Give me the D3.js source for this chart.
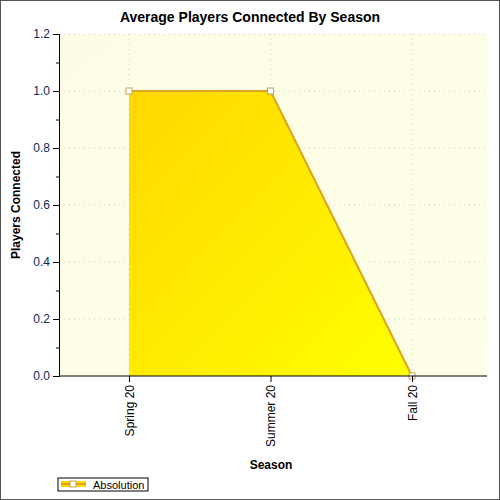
<!DOCTYPE html>
<html><head><meta charset="utf-8">
<script src="https://cdn.jsdelivr.net/npm/d3@7"></script>
<style>body{margin:0;background:#fff}text{font-family:"Liberation Sans",Arial,sans-serif}</style>
</head><body><div id="chart"></div>
<script>
var seasons = ["Spring 20", "Summer 20", "Fall 20"];
var players = [1.0, 1.0, 0.0];
var yTicks = [0, 0.2, 0.4, 0.6, 0.8, 1.0, 1.2];

var W = 500, H = 500, m = {left: 59, right: 487, top: 34, bottom: 376};
var svg = d3.select("#chart").append("svg").attr("width", W).attr("height", H);
var defs = svg.append("defs");
var bg = defs.append("linearGradient").attr("id", "bg").attr("x1", 0).attr("y1", 0).attr("x2", 1).attr("y2", 1);
bg.append("stop").attr("offset", 0).attr("stop-color", "#fdfde6");
bg.append("stop").attr("offset", 1).attr("stop-color", "#ffffe8");
var fg = defs.append("linearGradient").attr("id", "fg").attr("x1", 0).attr("y1", 0).attr("x2", 1).attr("y2", 1);
fg.append("stop").attr("offset", 0).attr("stop-color", "#ffd700");
fg.append("stop").attr("offset", 1).attr("stop-color", "#ffff00");

svg.append("rect").attr("x", 0.5).attr("y", 0.5).attr("width", W - 1).attr("height", H - 1)
  .attr("fill", "#fff").attr("stroke", "#555");

// category points sit slightly left of the band centres in the reference
var x = d3.scalePoint().domain(seasons).range([129, 412]);
var y = d3.scaleLinear().domain([0, 1.2]).range([m.bottom, m.top]);

svg.append("rect").attr("x", m.left).attr("y", m.top).attr("width", m.right - m.left)
  .attr("height", m.bottom - m.top).attr("fill", "url(#bg)");

// grid
svg.append("g").selectAll("line").data(yTicks.slice(1)).enter().append("line")
  .attr("x1", m.left).attr("x2", m.right).attr("y1", function(d){return y(d);}).attr("y2", function(d){return y(d);})
  .attr("stroke", "#ccc").attr("stroke-dasharray", "1,4");
svg.append("g").selectAll("line").data(seasons).enter().append("line")
  .attr("y1", m.top).attr("y2", m.bottom).attr("x1", function(d){return x(d);}).attr("x2", function(d){return x(d);})
  .attr("stroke", "#ccc").attr("stroke-dasharray", "1,4");

var area = d3.area().x(function(d, i){return x(seasons[i]);}).y0(y(0)).y1(function(d){return y(d);});
svg.append("path").datum(players).attr("d", area).attr("fill", "url(#fg)");
svg.append("path").datum(players).attr("d", d3.line().x(function(d, i){return x(seasons[i]);}).y(function(d){return y(d);}))
  .attr("fill", "none").attr("stroke", "#daa520").attr("stroke-width", 2);
svg.append("g").selectAll("rect").data(players).enter().append("rect")
  .attr("x", function(d, i){return x(seasons[i]) - 3;}).attr("y", function(d){return y(d) - 3;})
  .attr("width", 6).attr("height", 6).attr("fill", "#fff").attr("stroke", "#c9a35a");

// axes
var ya = svg.append("g").attr("transform", "translate(" + m.left + ",0)")
  .call(d3.axisLeft(y).tickValues(yTicks).tickFormat(d3.format(".1f")).tickSize(6).tickSizeOuter(0));
ya.selectAll("text").attr("fill", "#0a2a5a").attr("font-size", 12);
svg.append("g").attr("transform", "translate(" + m.left + ",0)")
  .call(d3.axisLeft(y).ticks(12).tickFormat("").tickSize(3).tickSizeOuter(0));
var xa = svg.append("g").attr("transform", "translate(0," + m.bottom + ")")
  .call(d3.axisBottom(x).tickSize(6).tickSizeOuter(0));
xa.select(".domain").attr("d", "M" + m.left + ",0H" + m.right);
xa.selectAll("text").attr("transform", "rotate(-90)").attr("text-anchor", "end")
  .attr("x", -9).attr("y", 0).attr("dy", "0.35em").attr("fill", "#000").attr("font-size", 12);
svg.selectAll(".domain").attr("stroke", "#000");

svg.append("text").attr("x", 250).attr("y", 22).attr("text-anchor", "middle")
  .attr("font-weight", "bold").attr("font-size", 14).text("Average Players Connected By Season");
svg.append("text").attr("x", 271).attr("y", 469).attr("text-anchor", "middle")
  .attr("font-weight", "bold").attr("font-size", 12).text("Season");
svg.append("text").attr("transform", "translate(20,205) rotate(-90)").attr("text-anchor", "middle")
  .attr("font-weight", "bold").attr("font-size", 12).text("Players Connected");

// legend
var lg = svg.append("g").attr("transform", "translate(58,478)");
lg.append("rect").attr("width", 90).attr("height", 13).attr("fill", "#fff").attr("stroke", "#000");
lg.append("rect").attr("x", 3).attr("y", 3).attr("width", 25).attr("height", 6).attr("fill", "#ffd700");
lg.append("line").attr("x1", 3).attr("x2", 28).attr("y1", 6).attr("y2", 6).attr("stroke", "#daa520").attr("stroke-width", 2);
lg.append("rect").attr("x", 12).attr("y", 3).attr("width", 6).attr("height", 6).attr("fill", "#fff").attr("stroke", "#c9a35a");
lg.append("text").attr("x", 35).attr("y", 10.5).attr("font-size", 11).text("Absolution");
</script></body></html>
